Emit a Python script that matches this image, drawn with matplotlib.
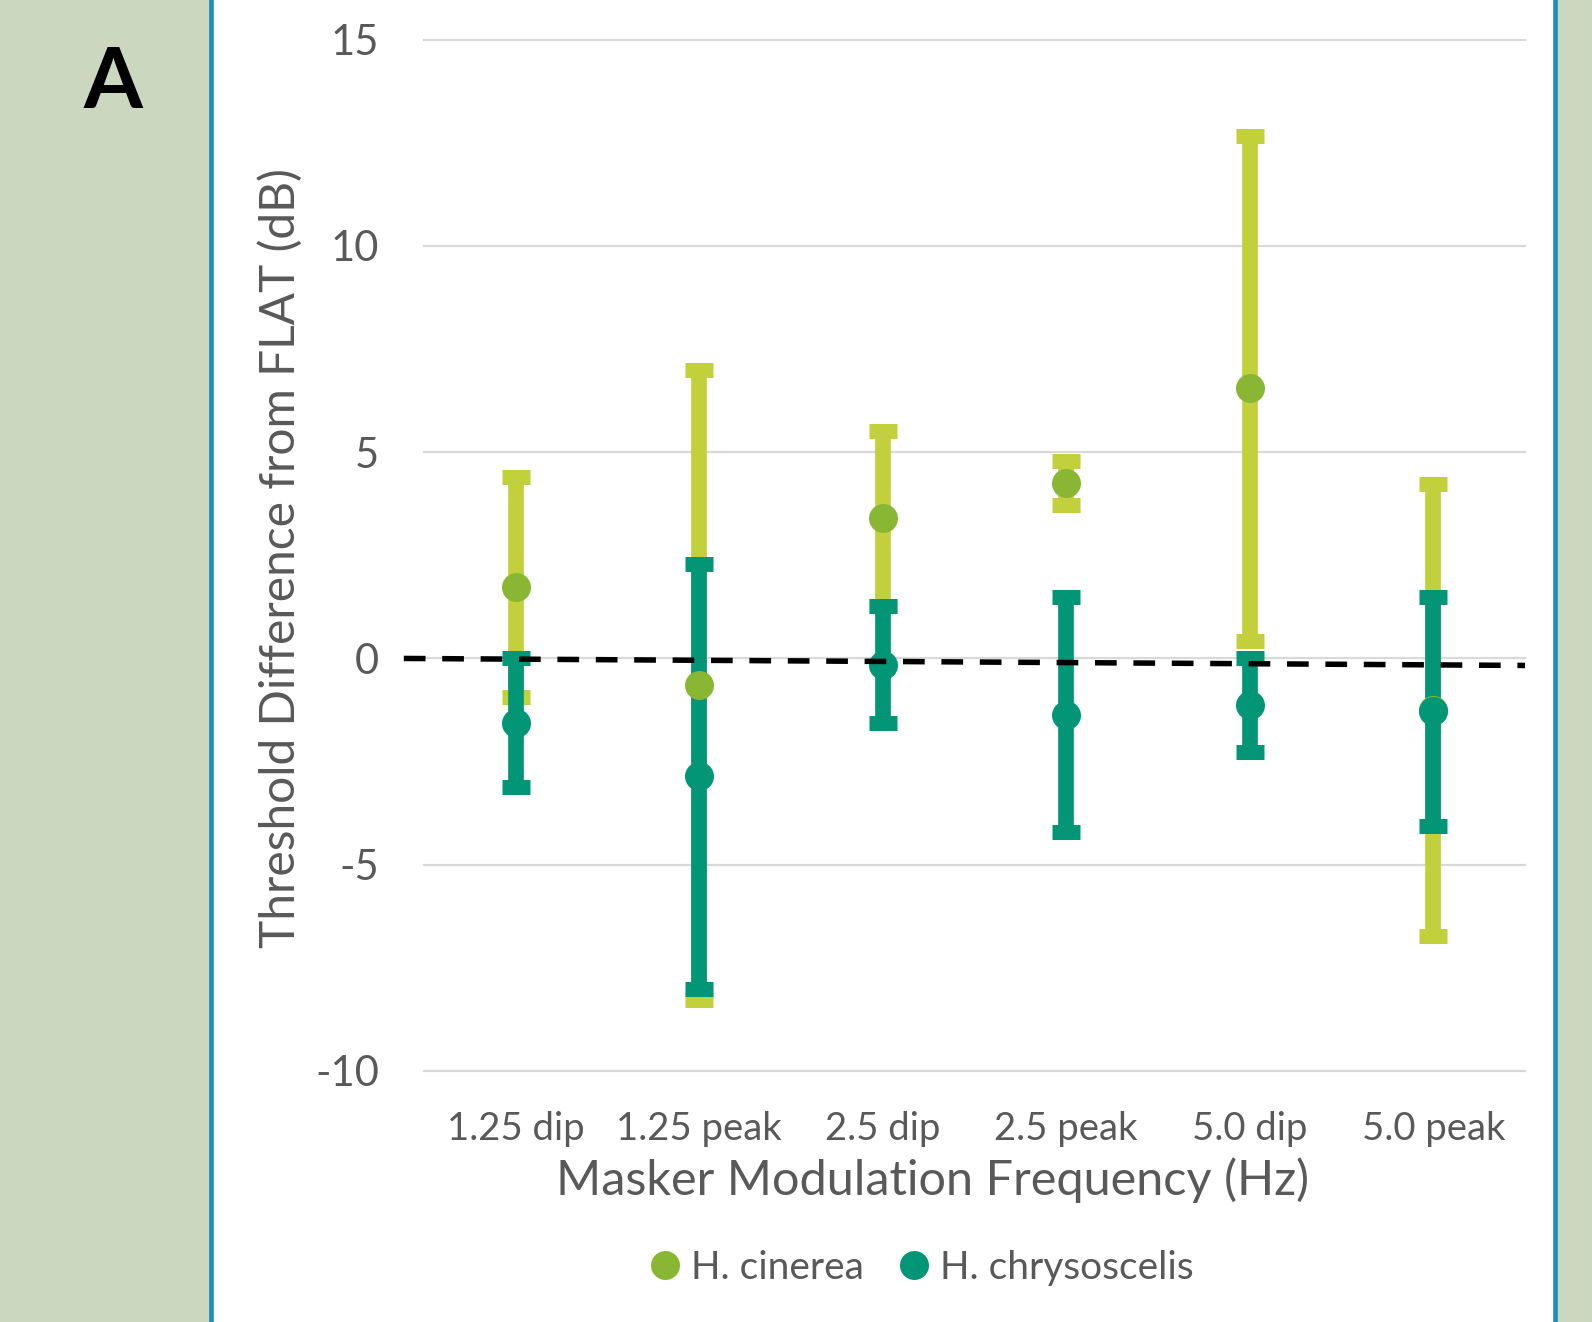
import matplotlib
matplotlib.use("Agg")
import matplotlib.pyplot as plt
from matplotlib.patches import Rectangle
from matplotlib.lines import Line2D

# ---------------- data ----------------
categories = ['1.25 dip', '1.25 peak', '2.5 dip', '2.5 peak', '5.0 dip', '5.0 peak']
cinerea_mean = [1.73, -0.65, 3.40, 4.26, 6.55, -1.25]
cinerea_err = [2.66, 7.64, 2.12, 0.53, 6.12, 5.47]
chryso_mean = [-1.56, -2.86, -0.15, -1.36, -1.12, -1.28]
chryso_err = [1.56, 5.15, 1.42, 2.85, 1.14, 2.77]
series_names = ['H. cinerea', 'H. chrysoscelis']
yticks = [-10, -5, 0, 5, 10, 15]
ref_x = [-0.61, 5.5]
ref_y = [0.0, -0.17]

# ---------------- style ----------------
W, H = 1592, 1322
DPI = 100
PX = 72.0 / DPI
panel_green = '#CBD8BF'
border_blue = '#1A8DBA'
cin_marker = '#8AB733'
cin_bar = '#C2D03B'
chr_col = '#029676'
text_col = '#595959'
grid_col = '#D9D9D9'
FONT = 'Lato'

fig = plt.figure(figsize=(W / DPI, H / DPI), dpi=DPI, facecolor=panel_green)
fig.patches.append(Rectangle((210.5 / W, -0.02), (1554.5 - 210.5) / W, 1.04,
                             transform=fig.transFigure, facecolor='white',
                             edgecolor=border_blue, linewidth=4.6 * PX, zorder=-5))

ax_l, ax_r, ax_t, ax_b = 424, 1525, 39.6, 1071
ax = fig.add_axes([ax_l / W, 1 - ax_b / H, (ax_r - ax_l) / W, (ax_b - ax_t) / H])
ax.set_facecolor('none')
for s in ax.spines.values():
    s.set_visible(False)

x = list(range(len(categories)))
ax.set_xlim(-0.5, len(categories) - 0.5)
ax.set_ylim(-10, 15)

for yv in yticks:
    ax.axhline(yv, color=grid_col, lw=2.2 * PX, zorder=1, clip_on=False)

bar_lw = 15.7 * PX
cap_size = 28 * PX / 2
cap_thick = 15 * PX

eb1 = ax.errorbar(x, cinerea_mean, yerr=cinerea_err, fmt='none', ecolor=cin_bar,
                  elinewidth=bar_lw, capsize=cap_size, capthick=cap_thick, zorder=2)
eb2 = ax.errorbar(x, chryso_mean, yerr=chryso_err, fmt='none', ecolor=chr_col,
                  elinewidth=bar_lw, capsize=cap_size, capthick=cap_thick, zorder=3)
for eb in (eb1, eb2):
    for lc in eb[2]:
        lc.set_capstyle('butt')

ms = 29 * PX
ax.plot(x, cinerea_mean, 'o', color=cin_marker, ms=ms, mew=0, zorder=4)
ax.plot(x, chryso_mean, 'o', color=chr_col, ms=ms, mew=0, zorder=5)

ref = ax.plot(ref_x, ref_y, color='black', lw=5.5 * PX, zorder=6, clip_on=False,
              solid_capstyle='butt')[0]
ref.set_dashes([21.7 / 5.5, 16.7 / 5.5])
ref.set_dash_capstyle('butt')

ax.set_yticks(yticks)
ax.set_yticklabels([str(v) for v in yticks], fontsize=30, color=text_col, family=FONT)
ax.set_xticks(x)
ax.set_xticklabels(categories, fontsize=27.5, color=text_col, family=FONT)
ax.tick_params(axis='both', length=0)
ax.tick_params(axis='y', pad=45 * PX)
ax.tick_params(axis='x', pad=40 * PX)

ax.set_xlabel('Masker Modulation Frequency (Hz)', fontsize=35, color=text_col, family=FONT)
ax.xaxis.label.set_va('baseline')
ax.xaxis.set_label_coords((933 - ax_l) / (ax_r - ax_l), -(1195 - ax_b) / (ax_b - ax_t))
ax.set_ylabel('Threshold Difference from FLAT (dB)', fontsize=34.5, color=text_col, family=FONT)
ax.yaxis.label.set_va('center')
ax.yaxis.set_label_coords((281 - ax_l) / (ax_r - ax_l), (ax_b - 558) / (ax_b - ax_t))

fig.text(113 / W, 1 - 84 / H, 'A', fontsize=61, fontweight='bold', family=FONT,
         color='black', ha='center', va='center')

handles = [Line2D([], [], ls='none', marker='o', ms=ms, mew=0, color=cin_marker),
           Line2D([], [], ls='none', marker='o', ms=ms, mew=0, color=chr_col)]
leg = fig.legend(handles, series_names, loc='center', bbox_to_anchor=(921.5 / W, 1 - 1268 / H),
                 ncol=2, frameon=False, handlelength=0.8, handletextpad=0.28,
                 columnspacing=0.89, borderpad=0, prop={'family': FONT, 'size': 28})
for t in leg.get_texts():
    t.set_color(text_col)

fig.savefig('out.png', dpi=DPI, facecolor=fig.get_facecolor())
